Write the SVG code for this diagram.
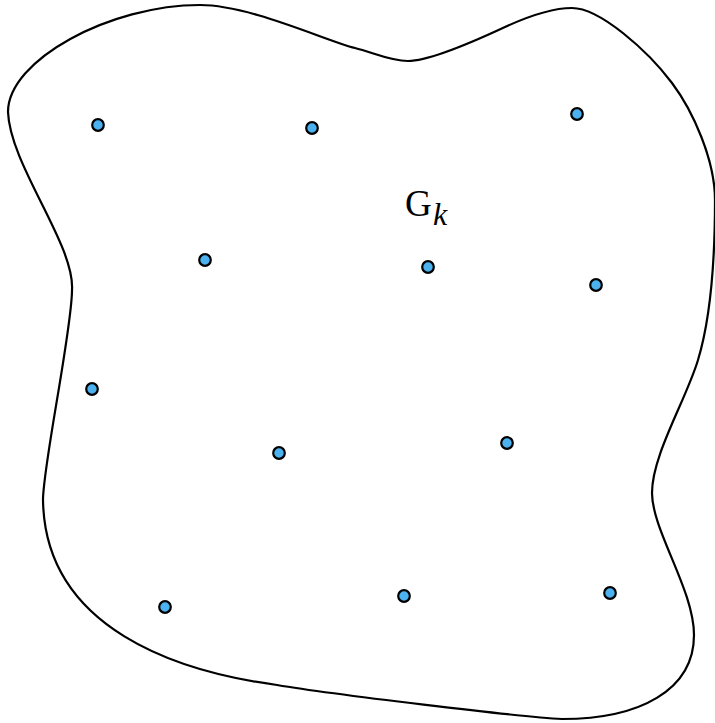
<svg xmlns="http://www.w3.org/2000/svg" width="715" height="723" viewBox="0 0 715 723">
<style>
.dot{fill:#4cb2ef;stroke:#000;stroke-width:2.2}
.boundary{fill:none;stroke:#000;stroke-width:2.2}
.lbl{font-family:"Liberation Serif","DejaVu Serif",serif;fill:#000}
</style>
<rect width="715" height="723" fill="#fff"/>
<g id="region">
<path class="boundary" d="M200,5 C250,5 325,40.5 355,48 C373,52.5 390,61 408,61 C430,61 475,41 505,27 C525,17.8 550,8 572,8 C600,8 648,51 672,83 C693,111 715,160 715,200 C715,250 712.5,312 698,360 C686,400 652,455 652,493 C652,530 694,590 694,635 C694,690 640,719 562,719 C520,717 330,694 277,685 C180,672 45,630 43,500 C43,465 72,330 72,290 C75,245 10,165 8,112 C8,60 110,5 200,5 Z"/>
</g>
<g id="label">
<text class="lbl" x="405" y="216" font-size="37">G</text>
<text class="lbl" x="433" y="225" font-size="32" font-style="italic">k</text>
</g>
<g id="n1"><circle class="dot" cx="98" cy="125" r="5.8"/></g>
<g id="n2"><circle class="dot" cx="312" cy="128" r="5.8"/></g>
<g id="n3"><circle class="dot" cx="577" cy="114" r="5.8"/></g>
<g id="n4"><circle class="dot" cx="205" cy="260" r="5.8"/></g>
<g id="n5"><circle class="dot" cx="428" cy="267" r="5.8"/></g>
<g id="n6"><circle class="dot" cx="596" cy="285" r="5.8"/></g>
<g id="n7"><circle class="dot" cx="92" cy="389" r="5.8"/></g>
<g id="n8"><circle class="dot" cx="279" cy="453" r="5.8"/></g>
<g id="n9"><circle class="dot" cx="507" cy="443" r="5.8"/></g>
<g id="n10"><circle class="dot" cx="165" cy="607" r="5.8"/></g>
<g id="n11"><circle class="dot" cx="404" cy="596" r="5.8"/></g>
<g id="n12"><circle class="dot" cx="610" cy="593" r="5.8"/></g>
<g id="connectors"></g>
</svg>
